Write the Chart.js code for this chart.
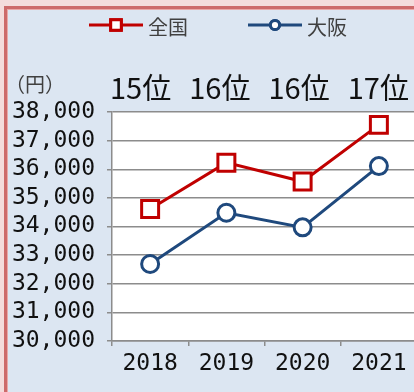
<!DOCTYPE html>
<html>
<head>
<meta charset="utf-8">
<script src="https://cdn.jsdelivr.net/npm/chart.js@4/dist/chart.umd.min.js"></script>
<style>
  html, body { margin: 0; padding: 0; width: 414px; height: 392px; overflow: hidden; background: #f4dcdc; }
  #panel { position: absolute; left: 4px; top: 6px; width: 430px; height: 400px;
           background: #dce6f2; border-left: 3px solid #cd6a6a; border-top: 3px solid #cd6a6a;
           box-shadow: inset 1px 1px 0 #e9a9a9; }
  #box { position: absolute; left: 0; top: 0; width: 432px; height: 392px; }
</style>
</head>
<body>
<div id="panel"></div>
<div id="box"><canvas id="c" width="432" height="392"></canvas></div>
<script>
// Average values (円) by year, nationwide and Osaka
const years = ['2018', '2019', '2020', '2021'];
const national = [34610, 36230, 35570, 37550];
const osaka = [32690, 34480, 33970, 36110];
const osakaRanks = ['15位', '16位', '16位', '17位'];
const seriesNames = ['全国', '大阪'];
const yTicks = [30000, 31000, 32000, 33000, 34000, 35000, 36000, 37000, 38000];

const RED = '#c00000';
const BLUE = '#1f497d';
const NUM_FONT = '"DejaVu Sans Mono", monospace';
const JP_FONT = '"Noto Sans CJK JP", sans-serif';

// White plot area on the blue panel
const plotBg = {
  id: 'plotBg',
  beforeDraw(chart) {
    const a = chart.chartArea, ctx = chart.ctx;
    ctx.save();
    ctx.fillStyle = '#ffffff';
    ctx.fillRect(a.left, a.top, a.right - a.left, a.bottom - a.top);
    ctx.restore();
  }
};

// Legend with line + marker, unit label and rank labels above each year
const extras = {
  id: 'extras',
  afterDraw(chart) {
    const ctx = chart.ctx;
    ctx.save();
    const items = [
      { name: seriesNames[0], color: RED, style: 'rect', r: 7.5, x0: 89, x1: 143, tx: 148 },
      { name: seriesNames[1], color: BLUE, style: 'circle', r: 4.6, x0: 248, x1: 302, tx: 307 }
    ];
    const ly = 25;
    items.forEach(it => {
      ctx.strokeStyle = it.color;
      ctx.lineWidth = 3;
      ctx.beginPath();
      ctx.moveTo(it.x0, ly);
      ctx.lineTo(it.x1, ly);
      ctx.stroke();
      ctx.fillStyle = '#ffffff';
      Chart.helpers.drawPoint(ctx, { pointStyle: it.style, radius: it.r, borderWidth: 3 }, (it.x0 + it.x1) / 2, ly);
      ctx.fill();
      ctx.stroke();
      ctx.fillStyle = '#404040';
      ctx.font = '20px ' + JP_FONT;
      ctx.textAlign = 'left';
      ctx.textBaseline = 'middle';
      ctx.fillText(it.name, it.tx, ly + 2);
    });

    ctx.fillStyle = '#404040';
    ctx.font = '20px ' + JP_FONT;
    ctx.textAlign = 'center';
    ctx.textBaseline = 'middle';
    ctx.fillText('（円）', 35, 84);

    // rank labels sit in a row slightly left of the category centres
    const xs = chart.scales.x;
    ctx.fillStyle = '#111111';
    ctx.font = '29px ' + JP_FONT;
    osakaRanks.forEach((t, i) => {
      ctx.fillText(t, xs.getPixelForValue(i) + (i - osakaRanks.length + 1) * 3 - 0.5, 88);
    });
    ctx.restore();
  }
};

new Chart(document.getElementById('c'), {
  type: 'line',
  data: {
    labels: years,
    datasets: [
      { label: seriesNames[0], data: national, borderColor: RED, backgroundColor: '#ffffff',
        borderWidth: 3, pointStyle: 'rect', pointRadius: 12, pointBorderWidth: 3,
        pointBackgroundColor: '#ffffff', pointBorderColor: RED, tension: 0 },
      { label: seriesNames[1], data: osaka, borderColor: BLUE, backgroundColor: '#ffffff',
        borderWidth: 3, pointStyle: 'circle', pointRadius: 8.5, pointBorderWidth: 3,
        pointBackgroundColor: '#ffffff', pointBorderColor: BLUE, tension: 0 }
    ]
  },
  options: {
    responsive: false,
    animation: false,
    events: [],
    layout: { padding: { top: 112, left: 0, right: 4, bottom: 0 } },
    plugins: { legend: { display: false }, tooltip: { enabled: false } },
    scales: {
      x: {
        offset: true,
        grid: { offset: true, drawOnChartArea: false, drawTicks: true, tickLength: 5, color: '#8c8c8c', lineWidth: 1.5 },
        border: { color: '#8c8c8c', width: 1.5 },
        ticks: { color: '#111111', font: { family: NUM_FONT, size: 23 }, padding: 4, maxRotation: 0 },
        afterFit(s) { s.height = 51; }
      },
      y: {
        min: 30000, max: 38000,
        afterBuildTicks(s) { s.ticks = yTicks.map(v => ({ value: v })); },
        grid: { color: '#8c8c8c', lineWidth: 1.5, tickLength: 5 },
        border: { color: '#8c8c8c', width: 1.5 },
        ticks: { color: '#111111', font: { family: NUM_FONT, size: 23 }, padding: 12, autoSkip: false,
                 callback: v => v.toLocaleString('en-US') },
        afterFit(s) { s.width = 112; }
      }
    }
  },
  plugins: [plotBg, extras]
});
</script>
</body>
</html>
